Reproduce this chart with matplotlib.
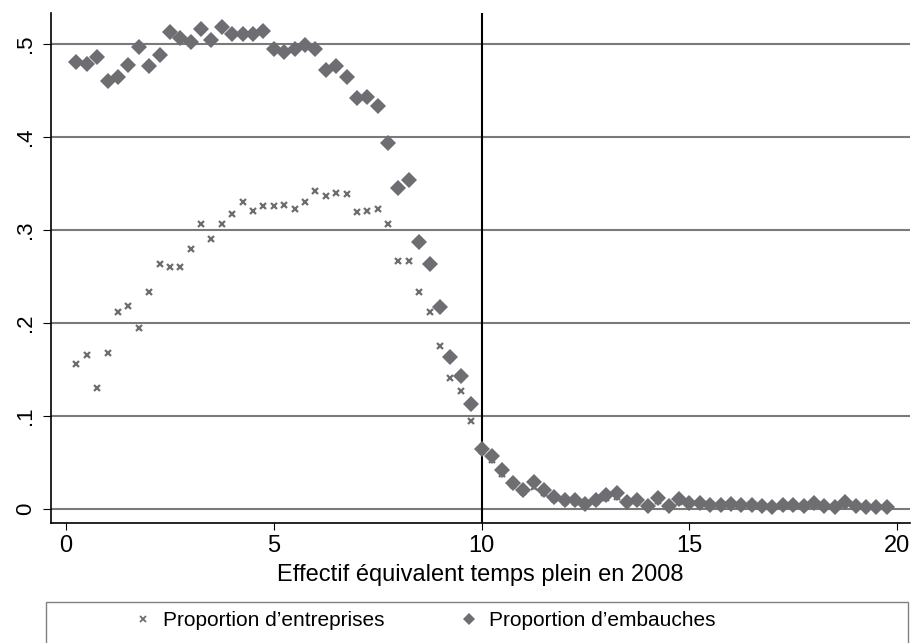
import matplotlib
matplotlib.use("Agg")
import matplotlib.pyplot as plt
from matplotlib.lines import Line2D
from matplotlib.patches import Rectangle

# bins of full-time equivalent headcount (2008)
fte = [0.25, 0.5, 0.75, 1.0, 1.25, 1.5, 1.75, 2.0, 2.25, 2.5,
       2.75, 3.0, 3.25, 3.5, 3.75, 4.0, 4.25, 4.5, 4.75, 5.0,
       5.25, 5.5, 5.75, 6.0, 6.25, 6.5, 6.75, 7.0, 7.25, 7.5,
       7.75, 8.0, 8.25, 8.5, 8.75, 9.0, 9.25, 9.5, 9.75, 10.0,
       10.25, 10.5, 10.75, 11.0, 11.25, 11.5, 11.75, 12.0, 12.25, 12.5,
       12.75, 13.0, 13.25, 13.5, 13.75, 14.0, 14.25, 14.5, 14.75, 15.0,
       15.25, 15.5, 15.75, 16.0, 16.25, 16.5, 16.75, 17.0, 17.25, 17.5,
       17.75, 18.0, 18.25, 18.5, 18.75, 19.0, 19.25, 19.5, 19.75]

prop_entreprises = [.156, .166, .130, .168, .212, .218, .195, .233, .264, .260,
                    .260, .280, .307, .290, .306, .317, .330, .321, .326, .326,
                    .327, .323, .330, .342, .337, .340, .339, .319, .321, .323,
                    .306, .267, .267, .233, .212, .175, .141, .127, .095, .062,
                    .053, .038, .026, .018, .024, .017, .011, .008, .008, .004,
                    .008, .012, .013, .006, .008, .003, .009, .003, .008, .005,
                    .005, .003, .003, .004, .003, .003, .002, .002, .003, .003,
                    .002, .004, .002, .002, .005, .002, .002, .002, .001]

prop_embauches = [.481, .479, .486, .460, .465, .478, .497, .476, .488, .513,
                  .507, .502, .516, .504, .518, .511, .511, .511, .514, .495,
                  .492, .495, .499, .495, .472, .476, .465, .442, .443, .433,
                  .394, .345, .354, .287, .263, .217, .163, .143, .113, .064,
                  .057, .042, .028, .020, .029, .020, .013, .010, .010, .005,
                  .010, .015, .017, .007, .010, .003, .012, .003, .011, .006,
                  .006, .004, .004, .005, .004, .004, .003, .002, .004, .004,
                  .003, .006, .003, .002, .007, .003, .002, .002, .002]

xticks = [0, 5, 10, 15, 20]
yticks = [0, .1, .2, .3, .4, .5]
ytick_labels = ["0", ".1", ".2", ".3", ".4", ".5"]
threshold = 10

GREY = "#6d6d72"
FONT = ["Liberation Sans", "DejaVu Sans"]

fig = plt.figure(figsize=(9.13, 6.43), dpi=100)
ax = fig.add_axes([51 / 913, 1 - 523 / 643, 859 / 913, 510.5 / 643])

for y in yticks:
    ax.axhline(y, color="#7a7a7a", lw=1.5, zorder=1)
ax.axvline(threshold, color="black", lw=1.5, zorder=2)

ax.plot(fte, prop_entreprises, "x", color=GREY, ms=5, mew=1.6, zorder=3)
ax.plot(fte, prop_embauches, "D", color=GREY, ms=8, mew=0, zorder=4)

ax.set_xlim(-0.361, 20.31)
ax.set_ylim(-0.0151, 0.534)
ax.set_xticks(xticks)
ax.set_xticklabels([str(t) for t in xticks], family=FONT, fontsize=17)
ax.set_yticks(yticks)
ax.set_yticklabels(ytick_labels, rotation=90, va="center", family=FONT, fontsize=16)
ax.tick_params(axis="x", length=5, width=0.8, pad=4)
ax.tick_params(axis="y", length=6, width=0.8, pad=5)
for side in ("top", "right"):
    ax.spines[side].set_visible(False)
for side in ("left", "bottom"):
    ax.spines[side].set_linewidth(1.2)
ax.set_xlabel("Effectif équivalent temps plein en 2008",
              family=FONT, fontsize=17, labelpad=5)

# legend box (Stata-style, spans the plot width)
fig.patches.append(Rectangle((46 / 913, -0.02), 862 / 913, (643 - 602) / 643 + 0.02,
                             transform=fig.transFigure, fill=False,
                             edgecolor="#808080", lw=1.0))
handles = [Line2D([], [], ls="", marker="x", color=GREY, ms=4, mew=1.3),
           Line2D([], [], ls="", marker="D", color=GREY, ms=6.5, mew=0)]
fig.legend(handles, ["Proportion d\u2019entreprises", "Proportion d\u2019embauches"],
           loc="center", bbox_to_anchor=(424 / 913, 1 - 621 / 643), ncol=2,
           frameon=False, prop={"family": FONT, "size": 15},
           handlelength=1.0, handletextpad=0.45, columnspacing=3.6)

fig.savefig("out.png", dpi=100)
